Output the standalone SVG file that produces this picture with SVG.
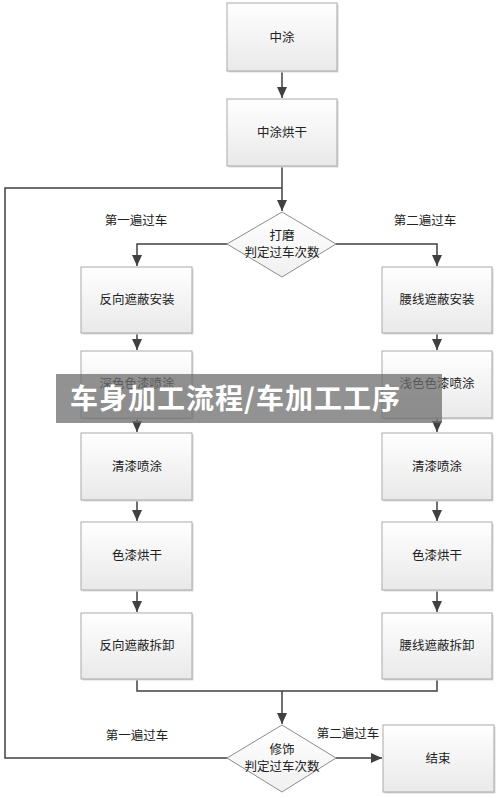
<svg xmlns="http://www.w3.org/2000/svg" width="500" height="798" viewBox="0 0 500 798">
<style>
.box{fill:url(#g);stroke:#a9a9a9;stroke-width:1}
.sh{fill:#d9d9d9}
.dia{fill:url(#gd);stroke:#8c8c8c;stroke-width:1}
.t{font-family:"Microsoft YaHei","Noto Sans CJK SC",sans-serif;font-size:12.5px;fill:#222;text-anchor:middle}
.c{fill:none;stroke:#404040;stroke-width:1.5}
.ban{font-family:"Noto Sans CJK SC",sans-serif;font-size:28px;font-weight:bold;fill:#fff}
</style>
<defs>
<linearGradient id="g" x1="0" y1="0" x2="0" y2="1"><stop offset="0" stop-color="#ffffff"/><stop offset="1" stop-color="#e9e9e9"/></linearGradient>
<linearGradient id="gd" x1="0" y1="0" x2="0" y2="1"><stop offset="0" stop-color="#ffffff"/><stop offset="1" stop-color="#f0f0f0"/></linearGradient>
<marker id="a" markerUnits="userSpaceOnUse" markerWidth="12" markerHeight="12" viewBox="0 0 12 12" refX="11" refY="6" orient="auto"><path d="M0,1 L11,6 L0,11 Z" fill="#404040"/></marker>
</defs>
<rect width="500" height="798" fill="#fff"/>
<g id="connectors">
<path class="c" d="M282,71 V98" marker-end="url(#a)"/>
<path class="c" d="M282,166 V211" marker-end="url(#a)"/>
<path class="c" d="M227,244 H137 V266" marker-end="url(#a)"/>
<path class="c" d="M336,244 H437 V266" marker-end="url(#a)"/>
<path class="c" d="M137,333 V350" marker-end="url(#a)"/>
<path class="c" d="M137,418 V432" marker-end="url(#a)"/>
<path class="c" d="M137,500 V521" marker-end="url(#a)"/>
<path class="c" d="M137,590 V612" marker-end="url(#a)"/>
<path class="c" d="M437,333 V350" marker-end="url(#a)"/>
<path class="c" d="M437,418 V432" marker-end="url(#a)"/>
<path class="c" d="M437,500 V521" marker-end="url(#a)"/>
<path class="c" d="M437,590 V612" marker-end="url(#a)"/>
<path class="c" d="M137,679 V691 H437 V679"/>
<path class="c" d="M282,691 V724" marker-end="url(#a)"/>
<path class="c" d="M227,758 H5 V188 H282"/>
<path class="c" d="M336,758 H382" marker-end="url(#a)"/>
</g>
<g id="lbl1"><text class="t" x="136" y="225">第一遍过车</text></g>
<g id="lbl2"><text class="t" x="425" y="225">第二遍过车</text></g>
<g id="lbl3"><text class="t" x="137" y="740">第一遍过车</text></g>
<g id="lbl4"><text class="t" x="348" y="738">第二遍过车</text></g>
<g id="n1"><rect class="sh" x="228.5" y="4.5" width="110" height="68"/><rect class="box" x="227" y="3" width="110" height="68"/><text class="t" x="282" y="41.5">中涂</text></g>
<g id="n2"><rect class="sh" x="228.5" y="100.5" width="110" height="67"/><rect class="box" x="227" y="99" width="110" height="67"/><text class="t" x="282" y="137">中涂烘干</text></g>
<g id="d1"><polygon class="dia" points="282,212 336,244 282,277 227,244"/><text class="t" x="282" y="240">打磨</text><text class="t" x="282" y="256.5">判定过车次数</text></g>
<g id="l1"><rect class="sh" x="82.5" y="268.5" width="111" height="66"/><rect class="box" x="81" y="267" width="111" height="66"/><text class="t" x="137" y="304">反向遮蔽安装</text></g>
<g id="l2"><rect class="sh" x="82.5" y="352.5" width="111" height="67"/><rect class="box" x="81" y="351" width="111" height="67"/><text class="t" x="137" y="388">深色色漆喷涂</text></g>
<g id="l3"><rect class="sh" x="82.5" y="434.5" width="111" height="67"/><rect class="box" x="81" y="433" width="111" height="67"/><text class="t" x="137" y="471">清漆喷涂</text></g>
<g id="l4"><rect class="sh" x="82.5" y="523.5" width="111" height="68"/><rect class="box" x="81" y="522" width="111" height="68"/><text class="t" x="137" y="560">色漆烘干</text></g>
<g id="l5"><rect class="sh" x="82.5" y="614.5" width="111" height="66"/><rect class="box" x="81" y="613" width="111" height="66"/><text class="t" x="137" y="650">反向遮蔽拆卸</text></g>
<g id="r1"><rect class="sh" x="383.5" y="268.5" width="110" height="66"/><rect class="box" x="382" y="267" width="110" height="66"/><text class="t" x="437" y="304">腰线遮蔽安装</text></g>
<g id="r2"><rect class="sh" x="383.5" y="352.5" width="110" height="67"/><rect class="box" x="382" y="351" width="110" height="67"/><text class="t" x="437" y="388">浅色色漆喷涂</text></g>
<g id="r3"><rect class="sh" x="383.5" y="434.5" width="110" height="67"/><rect class="box" x="382" y="433" width="110" height="67"/><text class="t" x="437" y="471">清漆喷涂</text></g>
<g id="r4"><rect class="sh" x="383.5" y="523.5" width="110" height="68"/><rect class="box" x="382" y="522" width="110" height="68"/><text class="t" x="437" y="560">色漆烘干</text></g>
<g id="r5"><rect class="sh" x="383.5" y="614.5" width="110" height="66"/><rect class="box" x="382" y="613" width="110" height="66"/><text class="t" x="437" y="650">腰线遮蔽拆卸</text></g>
<g id="d2"><polygon class="dia" points="282,725 336,758 282,792 227,758"/><text class="t" x="282" y="754">修饰</text><text class="t" x="282" y="771">判定过车次数</text></g>
<g id="end"><rect class="sh" x="384.5" y="726.5" width="111" height="67"/><rect class="box" x="383" y="725" width="111" height="67"/><text class="t" x="438" y="763">结束</text></g>
<g id="banner"><rect x="56" y="374" width="386" height="49" fill="#6e6e6e" fill-opacity="0.75"/><text class="ban" x="70" y="409" textLength="330" lengthAdjust="spacing">车身加工流程/车加工工序</text></g>
</svg>
